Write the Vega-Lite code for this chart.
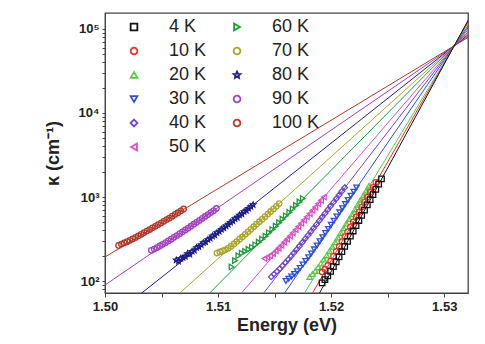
{
  "$schema": "https://vega.github.io/schema/vega-lite/v6.json",
  "width": 363,
  "height": 280,
  "autosize": "none",
  "padding": {"left": 105, "top": 13, "right": 17, "bottom": 51},
  "background": "white",
  "config": {
    "view": {"stroke": "#444444", "strokeWidth": 1.3},
    "font": "Liberation Sans",
    "legend": {"labelFontSize": 18, "labelFont": "Liberation Sans", "labelColor": "#222222", "symbolSize": 45, "symbolStrokeWidth": 1.8, "rowPadding": 6, "columnPadding": 21, "labelOffset": 26},
    "axis": {"grid": false, "domainColor": "#444444", "tickColor": "#444444", "labelColor": "#222222", "titleColor": "#222222", "labelFont": "Liberation Sans", "titleFont": "Liberation Sans", "labelFontWeight": "bold", "titleFontWeight": "bold", "labelOverlap": false, "labelFlush": false}
  },
  "datasets": {
    "pts": [
      {"T":"100 K","E":1.5012,"k":265},{"T":"100 K","E":1.50145,"k":275},{"T":"100 K","E":1.5017,"k":284},{"T":"100 K","E":1.50195,"k":294},{"T":"100 K","E":1.5022,"k":305},{"T":"100 K","E":1.50245,"k":317},{"T":"100 K","E":1.5027,"k":330},{"T":"100 K","E":1.50295,"k":345},{"T":"100 K","E":1.5032,"k":360},{"T":"100 K","E":1.50345,"k":377},{"T":"100 K","E":1.5037,"k":393},{"T":"100 K","E":1.50395,"k":410},{"T":"100 K","E":1.5042,"k":430},{"T":"100 K","E":1.50445,"k":448},{"T":"100 K","E":1.5047,"k":470},{"T":"100 K","E":1.50495,"k":490},{"T":"100 K","E":1.5052,"k":514},{"T":"100 K","E":1.50545,"k":538},{"T":"100 K","E":1.5057,"k":562},{"T":"100 K","E":1.50595,"k":592},{"T":"100 K","E":1.5062,"k":620},{"T":"100 K","E":1.50645,"k":650},{"T":"100 K","E":1.5067,"k":684},{"T":"100 K","E":1.50695,"k":720},
      {"T":"90 K","E":1.5041,"k":232},{"T":"90 K","E":1.50435,"k":240},{"T":"90 K","E":1.5046,"k":250},{"T":"90 K","E":1.50485,"k":261},{"T":"90 K","E":1.5051,"k":273},{"T":"90 K","E":1.50535,"k":286},{"T":"90 K","E":1.5056,"k":300},{"T":"90 K","E":1.50585,"k":315},{"T":"90 K","E":1.5061,"k":331},{"T":"90 K","E":1.50635,"k":348},{"T":"90 K","E":1.5066,"k":366},{"T":"90 K","E":1.50685,"k":385},{"T":"90 K","E":1.5071,"k":405},{"T":"90 K","E":1.50735,"k":426},{"T":"90 K","E":1.5076,"k":449},{"T":"90 K","E":1.50785,"k":474},{"T":"90 K","E":1.5081,"k":500},{"T":"90 K","E":1.50835,"k":527},{"T":"90 K","E":1.5086,"k":556},{"T":"90 K","E":1.50885,"k":586},{"T":"90 K","E":1.5091,"k":618},{"T":"90 K","E":1.50935,"k":652},{"T":"90 K","E":1.5096,"k":688},{"T":"90 K","E":1.50985,"k":730},
      {"T":"80 K","E":1.5063,"k":178},{"T":"80 K","E":1.5065,"k":172},{"T":"80 K","E":1.5067,"k":186},{"T":"80 K","E":1.5069,"k":190},{"T":"80 K","E":1.5071,"k":196},{"T":"80 K","E":1.5073,"k":212},{"T":"80 K","E":1.5075,"k":208},{"T":"80 K","E":1.5077,"k":226},{"T":"80 K","E":1.5079,"k":232},{"T":"80 K","E":1.5081,"k":250},{"T":"80 K","E":1.5083,"k":256},{"T":"80 K","E":1.5085,"k":270},{"T":"80 K","E":1.5087,"k":286},{"T":"80 K","E":1.5089,"k":292},{"T":"80 K","E":1.5091,"k":312},{"T":"80 K","E":1.5093,"k":322},{"T":"80 K","E":1.5095,"k":344},{"T":"80 K","E":1.5097,"k":352},{"T":"80 K","E":1.5099,"k":376},{"T":"80 K","E":1.5101,"k":390},{"T":"80 K","E":1.5103,"k":412},{"T":"80 K","E":1.5105,"k":428},{"T":"80 K","E":1.5107,"k":452},{"T":"80 K","E":1.5109,"k":470},{"T":"80 K","E":1.5111,"k":500},{"T":"80 K","E":1.5113,"k":520},{"T":"80 K","E":1.5115,"k":552},{"T":"80 K","E":1.5117,"k":570},{"T":"80 K","E":1.5119,"k":610},{"T":"80 K","E":1.5121,"k":628},{"T":"80 K","E":1.5123,"k":670},{"T":"80 K","E":1.5125,"k":690},{"T":"80 K","E":1.5127,"k":735},{"T":"80 K","E":1.5129,"k":770},{"T":"80 K","E":1.5131,"k":810},
      {"T":"70 K","E":1.5099,"k":215},{"T":"70 K","E":1.51015,"k":222},{"T":"70 K","E":1.5104,"k":228},{"T":"70 K","E":1.51065,"k":235},{"T":"70 K","E":1.5109,"k":246},{"T":"70 K","E":1.51115,"k":260},{"T":"70 K","E":1.5114,"k":276},{"T":"70 K","E":1.51165,"k":295},{"T":"70 K","E":1.5119,"k":315},{"T":"70 K","E":1.51215,"k":336},{"T":"70 K","E":1.5124,"k":360},{"T":"70 K","E":1.51265,"k":385},{"T":"70 K","E":1.5129,"k":413},{"T":"70 K","E":1.51315,"k":443},{"T":"70 K","E":1.5134,"k":475},{"T":"70 K","E":1.51365,"k":508},{"T":"70 K","E":1.5139,"k":545},{"T":"70 K","E":1.51415,"k":584},{"T":"70 K","E":1.5144,"k":626},{"T":"70 K","E":1.51465,"k":672},{"T":"70 K","E":1.5149,"k":722},{"T":"70 K","E":1.51515,"k":775},{"T":"70 K","E":1.5154,"k":835},
      {"T":"60 K","E":1.5112,"k":147},{"T":"60 K","E":1.5115,"k":175},{"T":"60 K","E":1.5118,"k":200},{"T":"60 K","E":1.5121,"k":215},{"T":"60 K","E":1.5124,"k":225},{"T":"60 K","E":1.5127,"k":238},{"T":"60 K","E":1.513,"k":252},{"T":"60 K","E":1.5133,"k":270},{"T":"60 K","E":1.5136,"k":290},{"T":"60 K","E":1.5139,"k":315},{"T":"60 K","E":1.5142,"k":342},{"T":"60 K","E":1.5145,"k":375},{"T":"60 K","E":1.5148,"k":410},{"T":"60 K","E":1.5151,"k":450},{"T":"60 K","E":1.5154,"k":495},{"T":"60 K","E":1.5157,"k":545},{"T":"60 K","E":1.516,"k":598},{"T":"60 K","E":1.5163,"k":655},{"T":"60 K","E":1.5166,"k":720},{"T":"60 K","E":1.5169,"k":795},{"T":"60 K","E":1.5172,"k":875},{"T":"60 K","E":1.5175,"k":960},
      {"T":"50 K","E":1.5141,"k":185},{"T":"50 K","E":1.51435,"k":192},{"T":"50 K","E":1.5146,"k":200},{"T":"50 K","E":1.51485,"k":212},{"T":"50 K","E":1.5151,"k":228},{"T":"50 K","E":1.51535,"k":246},{"T":"50 K","E":1.5156,"k":266},{"T":"50 K","E":1.51585,"k":290},{"T":"50 K","E":1.5161,"k":315},{"T":"50 K","E":1.51635,"k":343},{"T":"50 K","E":1.5166,"k":375},{"T":"50 K","E":1.51685,"k":408},{"T":"50 K","E":1.5171,"k":445},{"T":"50 K","E":1.51735,"k":487},{"T":"50 K","E":1.5176,"k":532},{"T":"50 K","E":1.51785,"k":582},{"T":"50 K","E":1.5181,"k":636},{"T":"50 K","E":1.51835,"k":695},{"T":"50 K","E":1.5186,"k":760},{"T":"50 K","E":1.51885,"k":832},{"T":"50 K","E":1.5191,"k":912},{"T":"50 K","E":1.51935,"k":1000},
      {"T":"40 K","E":1.5147,"k":112},{"T":"40 K","E":1.51495,"k":121},{"T":"40 K","E":1.5152,"k":130},{"T":"40 K","E":1.51545,"k":140},{"T":"40 K","E":1.5157,"k":152},{"T":"40 K","E":1.51595,"k":165},{"T":"40 K","E":1.5162,"k":180},{"T":"40 K","E":1.51645,"k":197},{"T":"40 K","E":1.5167,"k":216},{"T":"40 K","E":1.51695,"k":237},{"T":"40 K","E":1.5172,"k":261},{"T":"40 K","E":1.51745,"k":288},{"T":"40 K","E":1.5177,"k":318},{"T":"40 K","E":1.51795,"k":350},{"T":"40 K","E":1.5182,"k":386},{"T":"40 K","E":1.51845,"k":427},{"T":"40 K","E":1.5187,"k":472},{"T":"40 K","E":1.51895,"k":522},{"T":"40 K","E":1.5192,"k":577},{"T":"40 K","E":1.51945,"k":638},{"T":"40 K","E":1.5197,"k":706},{"T":"40 K","E":1.51995,"k":781},{"T":"40 K","E":1.5202,"k":864},{"T":"40 K","E":1.52045,"k":955},{"T":"40 K","E":1.5207,"k":1056},{"T":"40 K","E":1.52095,"k":1170},{"T":"40 K","E":1.5212,"k":1300},
      {"T":"30 K","E":1.516,"k":100},{"T":"30 K","E":1.51625,"k":106},{"T":"30 K","E":1.5165,"k":113},{"T":"30 K","E":1.51675,"k":121},{"T":"30 K","E":1.517,"k":131},{"T":"30 K","E":1.51725,"k":143},{"T":"30 K","E":1.5175,"k":157},{"T":"30 K","E":1.51775,"k":173},{"T":"30 K","E":1.518,"k":192},{"T":"30 K","E":1.51825,"k":213},{"T":"30 K","E":1.5185,"k":238},{"T":"30 K","E":1.51875,"k":265},{"T":"30 K","E":1.519,"k":297},{"T":"30 K","E":1.51925,"k":332},{"T":"30 K","E":1.5195,"k":372},{"T":"30 K","E":1.51975,"k":417},{"T":"30 K","E":1.52,"k":467},{"T":"30 K","E":1.52025,"k":523},{"T":"30 K","E":1.5205,"k":586},{"T":"30 K","E":1.52075,"k":656},{"T":"30 K","E":1.521,"k":735},{"T":"30 K","E":1.52125,"k":823},{"T":"30 K","E":1.5215,"k":922},{"T":"30 K","E":1.52175,"k":1033},{"T":"30 K","E":1.522,"k":1157},{"T":"30 K","E":1.52225,"k":1300},
      {"T":"20 K","E":1.5181,"k":112},{"T":"20 K","E":1.51835,"k":121},{"T":"20 K","E":1.5186,"k":132},{"T":"20 K","E":1.51885,"k":146},{"T":"20 K","E":1.5191,"k":162},{"T":"20 K","E":1.51935,"k":180},{"T":"20 K","E":1.5196,"k":202},{"T":"20 K","E":1.51985,"k":227},{"T":"20 K","E":1.5201,"k":256},{"T":"20 K","E":1.52035,"k":290},{"T":"20 K","E":1.5206,"k":329},{"T":"20 K","E":1.52085,"k":374},{"T":"20 K","E":1.5211,"k":425},{"T":"20 K","E":1.52135,"k":483},{"T":"20 K","E":1.5216,"k":549},{"T":"20 K","E":1.52185,"k":625},{"T":"20 K","E":1.5221,"k":712},{"T":"20 K","E":1.52235,"k":810},{"T":"20 K","E":1.5226,"k":920},{"T":"20 K","E":1.52285,"k":1046},{"T":"20 K","E":1.5231,"k":1190},{"T":"20 K","E":1.52335,"k":1360},
      {"T":"10 K","E":1.5192,"k":128},{"T":"10 K","E":1.51945,"k":138},{"T":"10 K","E":1.5197,"k":153},{"T":"10 K","E":1.51995,"k":173},{"T":"10 K","E":1.5202,"k":197},{"T":"10 K","E":1.52045,"k":225},{"T":"10 K","E":1.5207,"k":258},{"T":"10 K","E":1.52095,"k":295},{"T":"10 K","E":1.5212,"k":337},{"T":"10 K","E":1.52145,"k":385},{"T":"10 K","E":1.5217,"k":441},{"T":"10 K","E":1.52195,"k":505},{"T":"10 K","E":1.5222,"k":578},{"T":"10 K","E":1.52245,"k":662},{"T":"10 K","E":1.5227,"k":758},{"T":"10 K","E":1.52295,"k":868},{"T":"10 K","E":1.5232,"k":994},{"T":"10 K","E":1.52345,"k":1140},{"T":"10 K","E":1.5237,"k":1305},{"T":"10 K","E":1.52395,"k":1495},
      {"T":"4 K","E":1.5192,"k":95},{"T":"4 K","E":1.51945,"k":104},{"T":"4 K","E":1.5197,"k":115},{"T":"4 K","E":1.51995,"k":130},{"T":"4 K","E":1.5202,"k":148},{"T":"4 K","E":1.52045,"k":169},{"T":"4 K","E":1.5207,"k":194},{"T":"4 K","E":1.52095,"k":224},{"T":"4 K","E":1.5212,"k":258},{"T":"4 K","E":1.52145,"k":297},{"T":"4 K","E":1.5217,"k":342},{"T":"4 K","E":1.52195,"k":394},{"T":"4 K","E":1.5222,"k":455},{"T":"4 K","E":1.52245,"k":525},{"T":"4 K","E":1.5227,"k":605},{"T":"4 K","E":1.52295,"k":698},{"T":"4 K","E":1.5232,"k":805},{"T":"4 K","E":1.52345,"k":928},{"T":"4 K","E":1.5237,"k":1070},{"T":"4 K","E":1.52395,"k":1235},{"T":"4 K","E":1.5242,"k":1425},{"T":"4 K","E":1.52445,"k":1640}
    ],
    "fits": [
      {"S":"100 K","E":1.5,"k":193.2},{"S":"100 K","E":1.5322,"k":80800},
      {"S":"90 K","E":1.5,"k":89.5},{"S":"90 K","E":1.5322,"k":83500},
      {"S":"80 K","E":1.50271,"k":63.1},{"S":"80 K","E":1.5322,"k":87300},
      {"S":"70 K","E":1.50615,"k":63.1},{"S":"70 K","E":1.5322,"k":91200},
      {"S":"60 K","E":1.50884,"k":63.1},{"S":"60 K","E":1.5322,"k":95400},
      {"S":"50 K","E":1.5117,"k":63.1},{"S":"50 K","E":1.5322,"k":101500},
      {"S":"40 K","E":1.51371,"k":63.1},{"S":"40 K","E":1.5322,"k":107300},
      {"S":"30 K","E":1.51559,"k":63.1},{"S":"30 K","E":1.5322,"k":114500},
      {"S":"20 K","E":1.51739,"k":63.1},{"S":"20 K","E":1.5322,"k":124100},
      {"S":"10 K","E":1.51811,"k":63.1},{"S":"10 K","E":1.5322,"k":128800},
      {"S":"4 K","E":1.51874,"k":63.1},{"S":"4 K","E":1.5322,"k":133700}
    ]
  },
  "layer": [
    {
      "data": {"name": "fits"},
      "mark": {"type": "line", "clip": true, "strokeWidth": 1},
      "encoding": {
        "x": {"field": "E", "type": "quantitative",
          "scale": {"domain": [1.5, 1.5321], "nice": false, "zero": false},
          "axis": {"title": "Energy (eV)", "titleFontSize": 18, "titlePadding": 3, "labelFontSize": 13, "tickSize": 4, "labelPadding": 3,
            "values": [1.5, 1.505, 1.51, 1.515, 1.52, 1.525, 1.53],
            "labelExpr": "round(datum.value*1000) % 10 == 0 ? format(datum.value, '.2f') : ''"}},
        "y": {"field": "k", "type": "quantitative",
          "scale": {"type": "log", "domain": [72, 155000], "nice": false},
          "axis": {"title": "κ (cm⁻¹)", "titleFontSize": 18, "titlePadding": 16, "labelFontSize": 13, "tickSize": 3, "labelPadding": 3,
            "values": [80,90,100,200,300,400,500,600,700,800,900,1000,2000,3000,4000,5000,6000,7000,8000,9000,10000,20000,30000,40000,50000,60000,70000,80000,90000,100000],
            "labelExpr": "datum.value == 100 ? '10²' : datum.value == 1000 ? '10³' : datum.value == 10000 ? '10⁴' : datum.value == 100000 ? '10⁵' : ''"}},
        "detail": {"field": "S", "type": "nominal"},
        "stroke": {"field": "S", "type": "nominal", "legend": null,
          "scale": {"domain": ["100 K","90 K","80 K","70 K","60 K","50 K","40 K","30 K","20 K","10 K","4 K"],
            "range": ["#b0382a","#a23fc0","#1e1e88","#a9a52e","#1f9a3a","#d650c6","#7048c8","#2f4fd0","#5cc84a","#f0302a","#111111"]}}
      }
    },
    {
      "data": {"name": "pts"},
      "mark": {"type": "point", "filled": false, "strokeWidth": 1.3, "size": 30, "opacity": 1},
      "encoding": {
        "x": {"field": "E", "type": "quantitative"},
        "y": {"field": "k", "type": "quantitative"},
        "color": {"field": "T", "type": "nominal",
          "scale": {"domain": ["4 K","10 K","20 K","30 K","40 K","50 K","60 K","70 K","80 K","90 K","100 K"],
            "range": ["#111111","#f0302a","#5cc84a","#2f4fd0","#7048c8","#d650c6","#1f9a3a","#a9a52e","#1e1e88","#a23fc0","#b0382a"]},
          "legend": {"orient": "none", "legendX": 20, "legendY": 5, "columns": 2, "title": null, "padding": 0}},
        "shape": {"field": "T", "type": "nominal",
          "scale": {"domain": ["4 K","10 K","20 K","30 K","40 K","50 K","60 K","70 K","80 K","90 K","100 K"],
            "range": ["square","circle","triangle-up","triangle-down","diamond","triangle-left","triangle-right","circle","M0,-1L0.3,-0.35L1,-0.3L0.45,0.15L0.6,0.85L0,0.45L-0.6,0.85L-0.45,0.15L-1,-0.3L-0.3,-0.35Z","circle","circle"]}}
      }
    }
  ]
}
